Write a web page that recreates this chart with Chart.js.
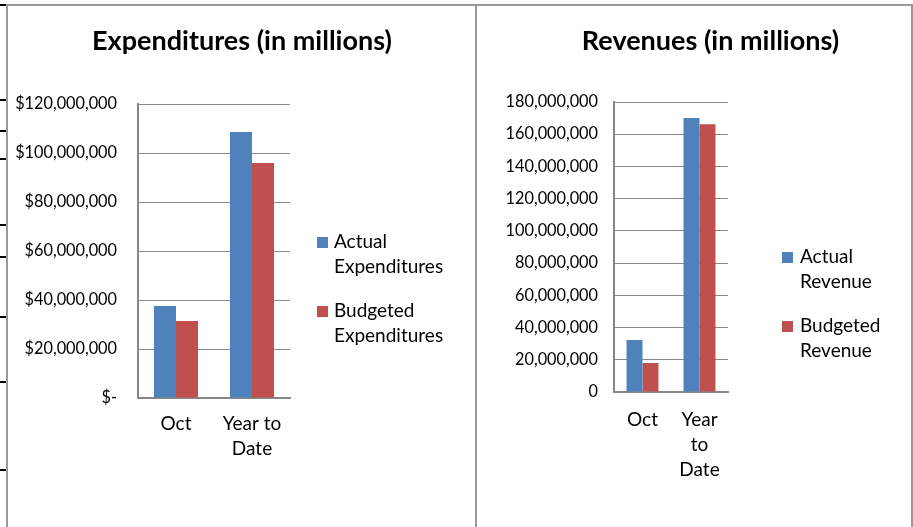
<!DOCTYPE html>
<html>
<head>
<meta charset="utf-8">
<script src="https://cdn.jsdelivr.net/npm/chart.js@4.4.1/dist/chart.umd.min.js"></script>
<style>
  html, body { margin: 0; padding: 0; background: #fff; }
  #wrap { position: relative; width: 913px; height: 527px; overflow: hidden; background: #fff; }
  canvas { position: absolute; top: 0; }
  #c1 { left: 0; }
  #c2 { left: 477px; }
  .ln { position: absolute; background: #9a9a9a; }
  .tk { position: absolute; left: 0; width: 6px; height: 2px; background: #000; }
</style>
</head>
<body>
<div id="wrap">
  <canvas id="c1" width="476" height="527"></canvas>
  <canvas id="c2" width="457" height="527"></canvas>
  <div class="ln" style="left:6px;top:4px;width:907px;height:2px;"></div>
  <div class="ln" style="left:6px;top:4px;width:2px;height:523px;"></div>
  <div class="ln" style="left:475px;top:4px;width:2px;height:523px;"></div>
  <div class="ln" style="left:911px;top:4px;width:2px;height:523px;"></div>
  <div class="tk" style="top:4px;"></div>
  <div class="tk" style="top:99px;"></div>
  <div class="tk" style="top:130px;"></div>
  <div class="tk" style="top:158px;"></div>
  <div class="tk" style="top:224px;"></div>
  <div class="tk" style="top:256px;"></div>
  <div class="tk" style="top:316px;"></div>
  <div class="tk" style="top:381px;"></div>
  <div class="tk" style="top:469px;"></div>
</div>
<script>
// ---- data ----
const expCategories = ["Oct", ["Year to", "Date"]];
const expActual = [37600000, 108600000];
const expBudgeted = [31400000, 95900000];
const expTickLabels = ["$-", "$20,000,000", "$40,000,000", "$60,000,000", "$80,000,000", "$100,000,000", "$120,000,000"];
const expLegend = [["Actual", "Expenditures"], ["Budgeted", "Expenditures"]];

const revCategories = ["Oct", ["Year", "to", "Date"]];
const revActual = [32300000, 170100000];
const revBudgeted = [18000000, 166200000];
const revTickLabels = ["0", "20,000,000", "40,000,000", "60,000,000", "80,000,000", "100,000,000", "120,000,000", "140,000,000", "160,000,000", "180,000,000"];
const revLegend = [["Actual", "Revenue"], ["Budgeted", "Revenue"]];

const BLUE = "#4F81BD";
const RED = "#C0504D";
const FONT = "Lato";

Chart.defaults.color = "#000";
Chart.defaults.font.family = FONT;

// custom legend drawn by a Chart.js plugin
const sideLegend = {
  id: "sideLegend",
  afterDraw(chart, args, opts) {
    const ctx = chart.ctx;
    ctx.save();
    ctx.font = opts.fontSize + "px " + FONT;
    ctx.textBaseline = "middle";
    ctx.textAlign = "left";
    opts.labels.forEach((lines, i) => {
      const it = opts.items[i];
      ctx.fillStyle = chart.data.datasets[i].backgroundColor;
      ctx.fillRect(it.bx, it.by, opts.box, opts.box);
      ctx.fillStyle = "#000";
      lines.forEach((t, j) => ctx.fillText(t, it.tx, it.ty + j * opts.lineGap));
    });
    ctx.restore();
  }
};

function makeChart(id, cfg) {
  const tickVals = cfg.tickLabels;
  return new Chart(document.getElementById(id), {
    type: "bar",
    data: {
      labels: cfg.categories,
      datasets: [
        { label: cfg.legend[0].join(" "), data: cfg.actual, backgroundColor: BLUE, borderWidth: 0 },
        { label: cfg.legend[1].join(" "), data: cfg.budgeted, backgroundColor: RED, borderWidth: 0 }
      ]
    },
    options: {
      responsive: false,
      animation: false,
      devicePixelRatio: 1,
      categoryPercentage: cfg.catPct,
      barPercentage: 1,
      layout: { padding: { left: cfg.padL, right: cfg.padR, top: 0, bottom: 0 } },
      plugins: {
        legend: { display: false },
        tooltip: { enabled: false },
        title: {
          display: true,
          text: cfg.title,
          color: "#000",
          font: { family: FONT, size: 27, weight: "bold", lineHeight: 1.2 },
          padding: { top: 24.8, bottom: cfg.titleBottom }
        },
        sideLegend: { labels: cfg.legend, items: cfg.legendItems, box: 11, fontSize: 19, lineGap: cfg.legendGap }
      },
      scales: {
        x: {
          grid: { display: false, drawTicks: false },
          border: { display: true, color: "#868686", width: 2 },
          ticks: { font: { family: FONT, size: 19, lineHeight: 1.316 }, padding: cfg.xPad, maxRotation: 0, autoSkip: false, color: "#000" },
          afterFit: s => { s.height = cfg.xHeight; }
        },
        y: {
          min: 0, max: cfg.max,
          grid: { color: "#8a8a8a", lineWidth: 1, drawTicks: false },
          border: { display: true, color: "#868686", width: 2 },
          ticks: {
            stepSize: cfg.step,
            font: { family: FONT, size: 16.3 },
            padding: cfg.yPad,
            color: "#000",
            callback: (v, i) => tickVals[i]
          },
          afterFit: s => { s.width = cfg.yWidth; }
        },
        side: {
          type: "linear", position: "right", display: true,
          grid: { display: false }, border: { display: false }, ticks: { display: false },
          afterFit: s => { s.width = cfg.sideWidth; }
        }
      }
    },
    plugins: [sideLegend]
  });
}

makeChart("c1", {
  categories: expCategories, actual: expActual, budgeted: expBudgeted,
  tickLabels: expTickLabels, legend: expLegend, title: "Expenditures (in millions)",
  max: 120000000, step: 20000000, catPct: 0.58,
  padL: 8, padR: 0, yWidth: 130, sideWidth: 186, xHeight: 129, titleBottom: 46.8,
  xPad: 13.5, yPad: 21,
  legendItems: [{ bx: 317, by: 237, tx: 334, ty: 242 }, { bx: 317, by: 306, tx: 334, ty: 311 }],
  legendGap: 25
});

makeChart("c2", {
  categories: revCategories, actual: revActual, budgeted: revBudgeted,
  tickLabels: revTickLabels, legend: revLegend, title: "Revenues (in millions)",
  max: 180000000, step: 20000000, catPct: 0.56,
  padL: 10, padR: 0, yWidth: 127, sideWidth: 206, xHeight: 135, titleBottom: 44.8,
  xPad: 15.5, yPad: 16,
  legendItems: [{ bx: 305, by: 252, tx: 323, ty: 257 }, { bx: 305, by: 321, tx: 323, ty: 326 }],
  legendGap: 25
});
</script>
</body>
</html>
